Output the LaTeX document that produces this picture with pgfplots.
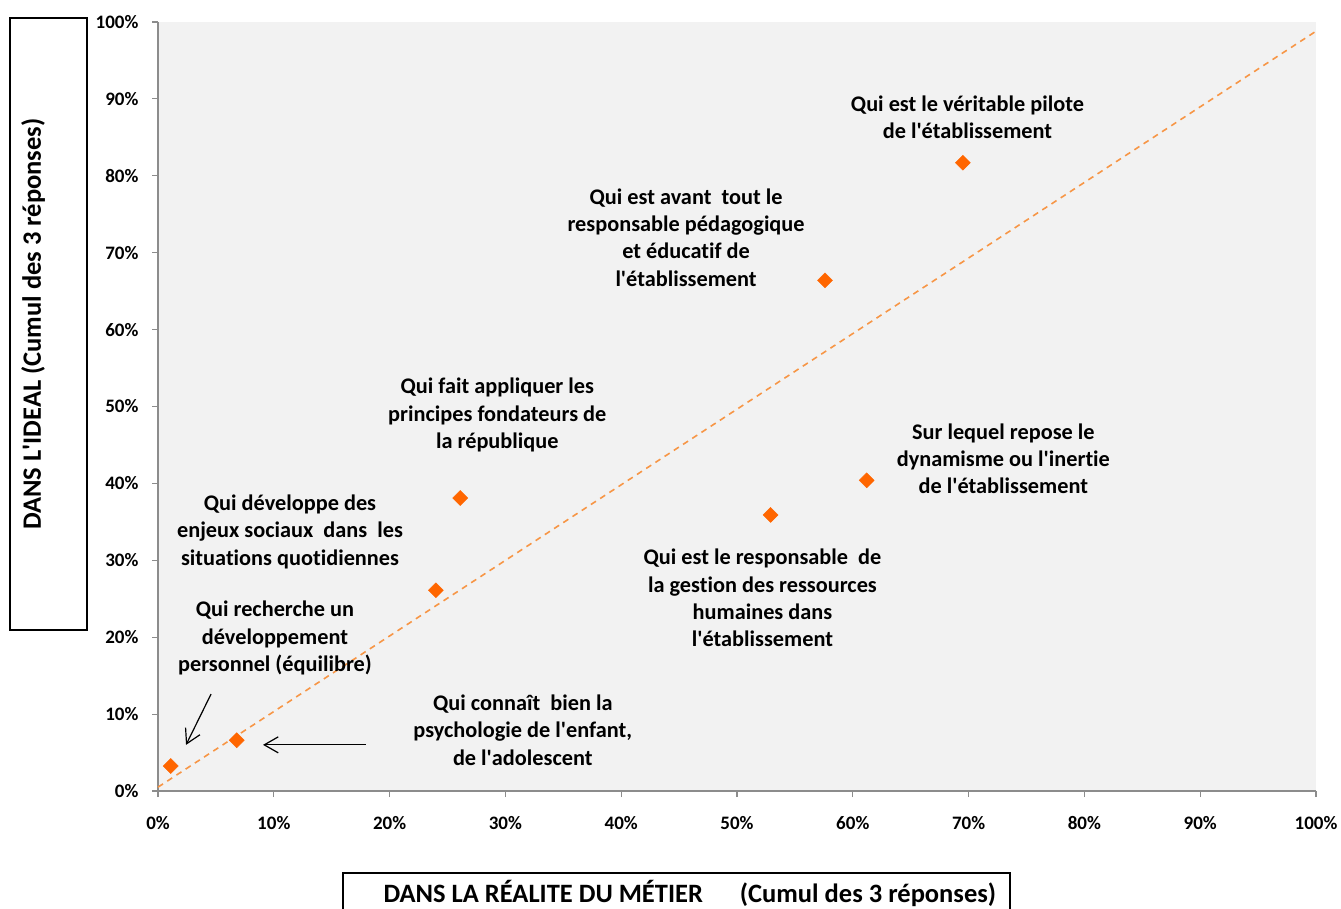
\documentclass[border=0pt]{standalone}
\usepackage{pgfplots}
\pgfplotsset{compat=1.18}
\usepackage{fontspec}
\setmainfont{Carlito}[Ligatures={TeX,NoCommon}]
\usetikzlibrary{arrows.meta}
\definecolor{bg}{HTML}{F2F2F2}
\definecolor{axgray}{HTML}{8C8C8C}
\definecolor{mk}{HTML}{FF6600}
\definecolor{trend}{HTML}{F79646}
\newcommand{\ann}{\fontsize{22.3}{27.3}\selectfont\bfseries}
\newcommand{\ap}{\textquotesingle}
\begin{document}
\begin{tikzpicture}[x=1pt,y=1pt]
\useasboundingbox (0,0) rectangle (1341,908);
\begin{axis}[at={(158pt,117pt)}, anchor=south west, scale only axis,
  width=1158pt, height=769pt,
  xmin=0, xmax=100, ymin=0, ymax=100,
  axis background/.style={fill=bg},
  axis x line=bottom, axis y line=left,
  axis line style={-, draw=axgray, line width=1.5pt},
  tick align=outside, major tick length=6pt,
  tick style={draw=axgray, line width=1.2pt},
  xtick={0,10,...,100}, ytick={0,10,...,100},
  xticklabels={0\%,10\%,20\%,30\%,40\%,50\%,60\%,70\%,80\%,90\%,100\%},
  yticklabels={0\%,10\%,20\%,30\%,40\%,50\%,60\%,70\%,80\%,90\%,100\%},
  ticklabel style={font=\fontsize{19}{19}\selectfont\bfseries},
  xticklabel style={yshift=-16pt},
  yticklabel style={xshift=-10pt},
  clip=false]
\addplot[trend, line width=1.6pt, dash pattern=on 6pt off 5pt] coordinates {(0,0.5) (100,98.8)};
\addplot[only marks, mark=square*, mark size=5.3pt, mark options={rotate=45, fill=mk, draw=mk}] coordinates {
(1.1,3.25) (6.8,6.6) (24.0,26.1) (26.1,38.1) (52.9,35.9) (61.2,40.4) (57.6,66.4) (69.5,81.7)};
\node[align=center, font=\ann] at (axis cs:69.9,87.6) {Qui est le véritable pilote\\de l\ap établissement};
\node[align=center, font=\ann] at (axis cs:45.6,72.0) {Qui est avant\ \ tout le\\responsable pédagogique\\et éducatif de\\l\ap établissement};
\node[align=center, font=\ann] at (axis cs:29.3,48.9) {Qui fait appliquer les\\principes fondateurs de\\la république};
\node[align=center, font=\ann] at (axis cs:73.0,43.2) {Sur lequel repose le\\dynamisme ou l\ap inertie\\de l\ap établissement};
\node[align=center, font=\ann] at (axis cs:11.4,33.7) {Qui développe des\\enjeux sociaux\ \ dans\ \ les\\situations quotidiennes};
\node[align=center, font=\ann] at (axis cs:52.2,25.1) {Qui est le responsable\ \ de\\la gestion des ressources\\humaines dans\\l\ap établissement};
\node[align=center, font=\ann] at (axis cs:10.1,19.9) {Qui recherche un\\développement\\personnel (équilibre)};
\node[align=center, font=\ann] at (axis cs:31.5,7.9) {Qui connaît\ \ bien la\\psychologie de l\ap enfant,\\de l\ap adolescent};
\draw[line width=1.2pt, -{Straight Barb[length=14pt,width=16pt]}] (axis cs:4.58,12.6) -- (axis cs:2.42,6.0);
\draw[line width=1.2pt, -{Straight Barb[length=14pt,width=16pt]}] (axis cs:17.96,6.0) -- (axis cs:9.07,6.0);
\end{axis}
\draw[line width=1.3pt] (10,278) rectangle (87,890);
\node[rotate=90, font=\fontsize{26.5}{26.5}\selectfont\bfseries] at (33,584) {DANS L\ap IDEAL (Cumul des 3 réponses)};
\draw[line width=1.3pt] (343,-10) -- (343,35) -- (1010,35) -- (1010,-10);
\node[anchor=west, font=\fontsize{26.5}{26.5}\selectfont\bfseries] at (380,15) {DANS LA RÉALITE DU MÉTIER\hspace{37pt}(Cumul des 3 réponses)};
\end{tikzpicture}
\end{document}
